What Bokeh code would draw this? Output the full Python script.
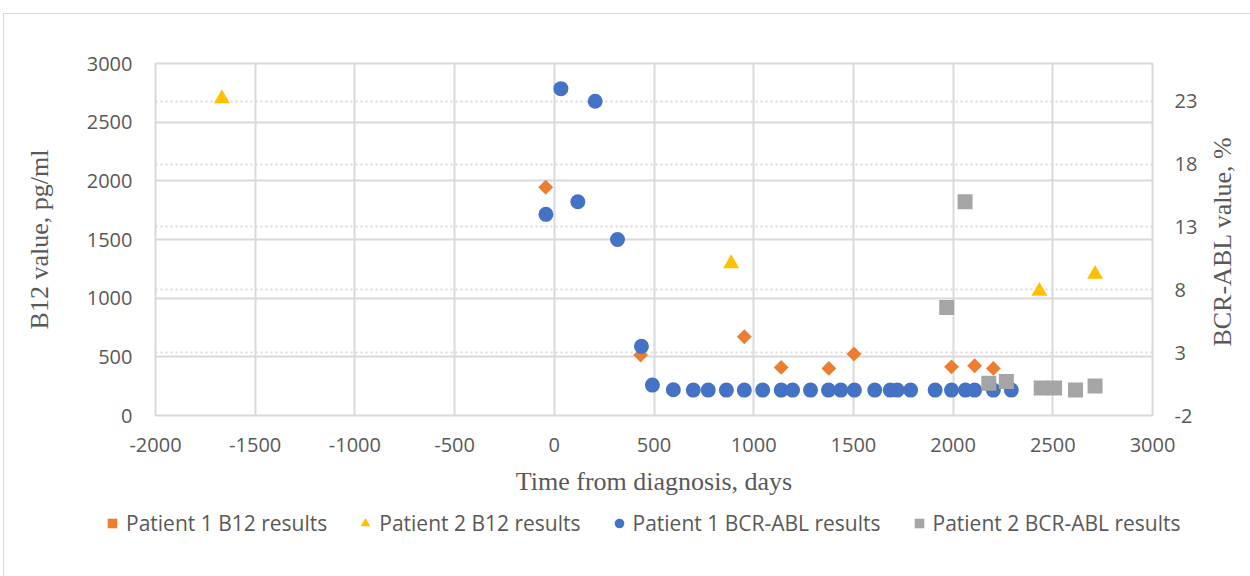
import math
from bokeh.plotting import figure
from bokeh.layouts import column, row
from bokeh.models import (Range1d, LinearAxis, FixedTicker, Grid, Legend, LegendItem,
                          CustomJSTickFormatter, Label)
from bokeh.embed import file_html
from bokeh.resources import INLINE

# ---- data ----
p1_b12_days = [-43, 433, 953, 1138, 1377, 1503, 1992, 2108, 2202]
p1_b12_vals = [1945, 515, 671, 410, 401, 524, 415, 424, 401]

p2_b12_days = [-1667, 887, 2433, 2712]
p2_b12_vals = [2700, 1295, 1060, 1205]

p1_bcr_days = [-42, 33, 118, 205, 317, 437, 492, 597, 697, 772, 863, 953, 1045,
               1138, 1195, 1285, 1375, 1437, 1505, 1607, 1685, 1720, 1787, 1910,
               1992, 2062, 2108, 2202, 2292]
p1_bcr_pct = [14.0, 24.0, 15.0, 23.0, 12.0, 3.5, 0.42, 0.05, 0.02, 0.02, 0.02, 0.02, 0.02,
              0.02, 0.02, 0.02, 0.02, 0.02, 0.02, 0.02, 0.02, 0.02, 0.02, 0.02,
              0.02, 0.02, 0.02, 0.02, 0.02]

p2_bcr_days = [1968, 2060, 2179, 2267, 2442, 2509, 2614, 2712]
p2_bcr_pct = [6.6, 15.0, 0.56, 0.70, 0.19, 0.19, 0.03, 0.35]

x_ticks = [-2000, -1500, -1000, -500, 0, 500, 1000, 1500, 2000, 2500, 3000]
left_ticks = [0, 500, 1000, 1500, 2000, 2500, 3000]
right_ticks = [-2, 3, 8, 13, 18, 23]
right_max = 26

series_names = ["Patient 1 B12 results", "Patient 2 B12 results",
                "Patient 1 BCR-ABL results", "Patient 2 BCR-ABL results"]
series_colors = ["#ED7D31", "#FFC000", "#4472C4", "#A5A5A5"]
series_x = [p1_b12_days, p2_b12_days, p1_bcr_days, p2_bcr_days]
series_y = [p1_b12_vals, p2_b12_vals, p1_bcr_pct, p2_bcr_pct]

right_title = "BCR-ABL value, %"

# ---- main figure ----
TXT = "#595959"
GRID = "#d9d9d9"

p = figure(width=1196, height=493, output_backend="svg", toolbar_location=None,
           x_range=Range1d(x_ticks[0], x_ticks[-1]),
           y_range=Range1d(left_ticks[0], left_ticks[-1]),
           min_border_left=151, min_border_right=48, min_border_top=49,
           min_border_bottom=92)
p.extra_y_ranges = {"right": Range1d(right_ticks[0], right_max)}

p.outline_line_color = GRID
p.outline_line_width = 2

p.xaxis.ticker = FixedTicker(ticks=x_ticks)
p.yaxis.ticker = FixedTicker(ticks=left_ticks)
p.xgrid.ticker = FixedTicker(ticks=x_ticks)
p.ygrid.ticker = FixedTicker(ticks=left_ticks)
for g in (p.xgrid, p.ygrid):
    g.grid_line_color = GRID
    g.grid_line_width = 2

rgrid = Grid(dimension=1, ticker=FixedTicker(ticks=right_ticks[1:]), y_range_name="right",
             grid_line_color=GRID, grid_line_width=2, grid_line_dash="2 3")
p.add_layout(rgrid)

right_axis = LinearAxis(y_range_name="right", ticker=FixedTicker(ticks=right_ticks))
p.add_layout(right_axis, "right")

fmt = CustomJSTickFormatter(code="return tick.toFixed(0);")
for ax in (p.xaxis[0], p.yaxis[0], right_axis):
    ax.formatter = fmt
    ax.axis_line_color = None
    ax.major_tick_line_color = None
    ax.minor_tick_line_color = None
    ax.major_tick_out = 0
    ax.major_tick_in = 0
    ax.major_label_text_font = "Open Sans"
    ax.major_label_text_font_size = "20px"
    ax.major_label_text_color = TXT
    ax.axis_label_text_font = "Liberation Serif"
    ax.axis_label_text_font_size = "26px"
    ax.axis_label_text_font_style = "normal"
    ax.axis_label_text_color = TXT

p.yaxis[0].major_label_standoff = 23
right_axis.major_label_standoff = 22
p.xaxis[0].major_label_standoff = 22

p.yaxis[0].axis_label = "B12 value, pg/ml"
p.yaxis[0].axis_label_standoff = 30
p.xaxis[0].axis_label = "Time from diagnosis, days"
p.xaxis[0].axis_label_standoff = 12

# ---- series ----
markers = ["square", "triangle", "circle", "square"]
angles = [math.pi / 4, 0, 0, 0]
sizes = [10.5, 16, 15, 15]
ranges = ["default", "default", "right", "right"]
for xs, ys, mk, ang, sz, col, rn in zip(series_x, series_y, markers, angles, sizes,
                                        series_colors, ranges):
    p.scatter(xs, ys, y_range_name=rn, marker=mk, angle=ang, size=sz,
              fill_color=col, line_color=None)

# ---- right axis title strip (reads bottom-to-top) ----
pt = figure(width=50, height=493, output_backend="svg", toolbar_location=None,
            x_range=Range1d(0, 50), y_range=Range1d(0, 493),
            min_border_left=0, min_border_right=0, min_border_top=0, min_border_bottom=0)
pt.axis.visible = False
pt.grid.visible = False
pt.outline_line_color = None
pt.add_layout(Label(x=22, y=266, text=right_title, angle=math.pi / 2,
                    text_align="center", text_baseline="middle",
                    text_font="Liberation Serif", text_font_size="26px", text_color=TXT))

# ---- legend strip (separate figure under the chart) ----
pl = figure(width=1246, height=69, output_backend="svg", toolbar_location=None,
            x_range=Range1d(0, 1), y_range=Range1d(0, 1),
            min_border_left=0, min_border_right=0, min_border_top=0, min_border_bottom=0)
pl.axis.visible = False
pl.grid.visible = False
pl.outline_line_color = None
for fig in (p, pl, pt):
    try:
        fig.frame_align = False
    except Exception:
        pass

leg_sizes = [9, 13, 12, 12]
leg_renderers = []
# same series drawn in the strip; its 0..1 ranges keep them out of view
for xs, ys, mk, ang, sz, col in zip(series_x, series_y, markers, angles, leg_sizes,
                                    series_colors):
    leg_renderers.append(pl.scatter(xs, ys, marker=mk, angle=ang, size=sz,
                                    fill_color=col, line_color=None))

legend = Legend(items=[LegendItem(label=n, renderers=[r]) for n, r in
                       zip(series_names, leg_renderers)],
                orientation="horizontal", location=(96, 39),
                border_line_color=None, background_fill_alpha=0,
                label_text_font="Open Sans", label_text_font_size="21px",
                label_text_color=TXT, glyph_width=24, glyph_height=24,
                label_standoff=2, spacing=26, padding=0, margin=0)
pl.add_layout(legend)

layout = column(row(p, pt, spacing=0), pl, spacing=0)
layout.styles = {"margin-left": "3px", "margin-top": "13px",
                 "border-left": "1px solid #d9d9d9", "border-top": "1px solid #d9d9d9"}

open("out.html", "w").write(file_html(layout, INLINE))
